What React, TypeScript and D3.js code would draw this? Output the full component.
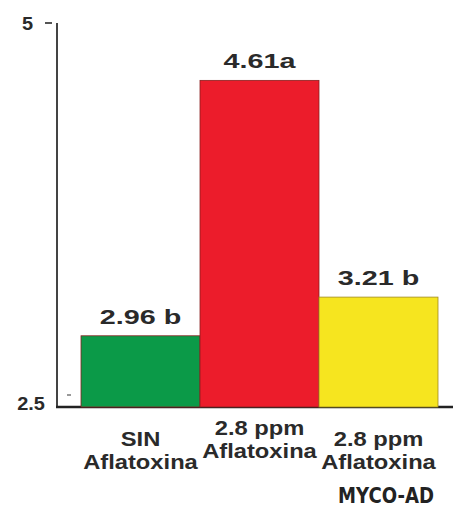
import React from "react";
import * as d3 from "d3";

const categories = ["SIN|Aflatoxina", "2.8 ppm|Aflatoxina", "2.8 ppm|Aflatoxina|MYCO-AD"];
const values = [2.96, 4.61, 3.21];
const valueLabels = ["2.96 b", "4.61a", "3.21 b"];
const colors = ["#0b9a48", "#ec1c2b", "#f6e51f"];
const yTicks = [2.5, 5];

const W = 453;
const H = 508;

export default function App() {
  const x = d3.scaleBand<string>().domain(categories).range([81, 438]).padding(0);
  const y = d3.scaleLinear().domain([2.5, 5]).range([407, 20]);
  const font = "Arial, 'Liberation Sans', Helvetica, sans-serif";
  const txt = "#2a2a2a";

  return (
    <svg width={W} height={H} style={{ position: "absolute", left: 0, top: 0, background: "#fff" }}>
      <line x1={57} x2={57} y1={y(5) + 3} y2={y(2.5)} stroke="#444" strokeWidth={2} />
      <line x1={56} x2={W} y1={y(2.5)} y2={y(2.5)} stroke="#222" strokeWidth={2.5} />
      {yTicks.map((t) => (
        <g key={t}>
          {t === 5 ? (
            <line x1={45} x2={52} y1={y(t) + 3} y2={y(t) + 3} stroke="#555" strokeWidth={2} />
          ) : (
            <line x1={67} x2={71} y1={y(t) - 12} y2={y(t) - 12} stroke="#777" strokeWidth={1.5} />
          )}
          <text
            transform={`translate(${t === 5 ? 27.5 : 31},${y(t) + (t === 5 ? 10 : 3)}) scale(1.05,1)`}
            textAnchor="middle"
            fontFamily={font}
            fontWeight="bold"
            fontSize={19}
            fill={txt}
          >
            {t === 5 ? "5" : "2.5"}
          </text>
        </g>
      ))}
      {categories.map((c, i) => (
        <rect
          key={c}
          x={x(c)!}
          y={y(values[i])}
          width={x.bandwidth()}
          height={y(2.5) - y(values[i])}
          fill={colors[i]}
          stroke={i === 2 ? "#a08a20" : "#8a2020"}
          strokeWidth={0.8}
        />
      ))}
      {categories.map((c, i) => (
        <text
          key={"v" + c}
          transform={`translate(${x(c)! + x.bandwidth() / 2},${y(values[i]) - 12}) scale(1.37,1)`}
          textAnchor="middle"
          fontFamily={font}
          fontWeight="bold"
          fontSize={21}
          fill={txt}
        >
          {valueLabels[i]}
        </text>
      ))}
      {categories.map((c, i) => {
        const lines = c.split("|");
        const cx = x(c)! + x.bandwidth() / 2;
        const y0 = i === 1 ? 435 : 446;
        return (
          <g key={"l" + c}>
            {lines.slice(0, 2).map((l, j) => (
              <text
                key={j}
                transform={`translate(${cx},${y0 + j * 23}) scale(1.13,1)`}
                textAnchor="middle"
                fontFamily={font}
                fontWeight="bold"
                fontSize={21}
                fill={txt}
              >
                {l}
              </text>
            ))}
            {lines[2] && (
              <text
                x={386}
                y={503}
                textAnchor="middle"
                textLength={96}
                lengthAdjust="spacingAndGlyphs"
                fontFamily="'DejaVu Sans', sans-serif"
                fontWeight="bold"
                fontSize={21}
                fill="#222"
              >
                {lines[2]}
              </text>
            )}
          </g>
        );
      })}
    </svg>
  );
}
